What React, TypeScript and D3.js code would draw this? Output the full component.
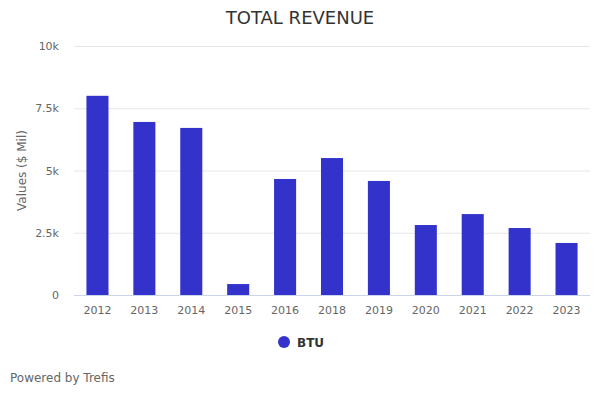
import React, { useEffect, useRef } from 'react';
import * as d3 from 'd3';

const years = ['2012', '2013', '2014', '2015', '2016', '2018', '2019', '2020', '2021', '2022', '2023'];
const revenue = [8000, 6950, 6710, 440, 4660, 5500, 4580, 2810, 3250, 2690, 2090];
const yTicks = [0, 2500, 5000, 7500, 10000];
const seriesName = 'BTU';

const App: React.FC = () => {
  const svgRef = useRef<SVGSVGElement | null>(null);

  useEffect(() => {
    const width = 600;
    const height = 400;
    const marginTop = 46;
    const marginRight = 10;
    const marginBottom = 105;
    const marginLeft = 74;
    const font = '"DejaVu Sans", Verdana, sans-serif';

    const svg = d3.select(svgRef.current)
      .attr('width', width)
      .attr('height', height)
      .attr('viewBox', [0, 0, width, height])
      .style('font-family', font);

    svg.selectAll('*').remove();

    svg.append('rect').attr('width', width).attr('height', height).attr('fill', '#fff');

    const x = d3.scaleBand<string>().domain(years)
      .range([marginLeft, width - marginRight])
      .paddingInner(0.53)
      .paddingOuter(0.265);

    const y = d3.scaleLinear().domain([0, 10000])
      .range([height - marginBottom, marginTop]);

    // gridlines
    svg.append('g')
      .selectAll('line')
      .data(yTicks)
      .enter()
      .append('line')
      .attr('x1', marginLeft)
      .attr('x2', width - marginRight)
      .attr('y1', d => y(d) + 0.5)
      .attr('y2', d => y(d) + 0.5)
      .attr('stroke', '#e6e6e6');

    // y labels
    const fmt = (d: number) => (d === 0 ? '0' : `${d / 1000}k`);
    svg.append('g')
      .selectAll('text')
      .data(yTicks)
      .enter()
      .append('text')
      .attr('x', 59)
      .attr('y', d => y(d) + 4)
      .attr('text-anchor', 'end')
      .attr('font-size', 11)
      .attr('fill', '#666')
      .text(fmt);

    // bars
    svg.append('g')
      .selectAll('rect')
      .data(revenue)
      .enter()
      .append('rect')
      .attr('x', (_, i) => x(years[i]) as number)
      .attr('y', d => y(d))
      .attr('width', x.bandwidth())
      .attr('height', d => y(0) - y(d))
      .attr('fill', '#3333cc');

    // x axis line
    svg.append('line')
      .attr('x1', marginLeft)
      .attr('x2', width - marginRight)
      .attr('y1', y(0) + 0.5)
      .attr('y2', y(0) + 0.5)
      .attr('stroke', '#ccd6eb');

    // x labels
    svg.append('g')
      .selectAll('text')
      .data(years)
      .enter()
      .append('text')
      .attr('x', d => (x(d) as number) + x.bandwidth() / 2)
      .attr('y', y(0) + 19)
      .attr('text-anchor', 'middle')
      .attr('font-size', 11)
      .attr('fill', '#666')
      .text(d => d);

    // title
    svg.append('text')
      .attr('x', width / 2)
      .attr('y', 24)
      .attr('text-anchor', 'middle')
      .attr('font-size', 18)
      .attr('fill', '#333')
      .text('TOTAL REVENUE');

    // y axis title
    svg.append('text')
      .attr('transform', `translate(26,${(marginTop + y(0)) / 2}) rotate(-90)`)
      .attr('text-anchor', 'middle')
      .attr('font-size', 12)
      .attr('fill', '#666')
      .text('Values ($ Mil)');

    // legend
    const legend = svg.append('g').attr('transform', 'translate(284,342)');
    legend.append('circle').attr('r', 6).attr('fill', '#3333cc');
    legend.append('text')
      .attr('x', 13)
      .attr('y', 5)
      .attr('font-size', 12)
      .attr('font-weight', 'bold')
      .attr('fill', '#333')
      .text(seriesName);

    // credits
    svg.append('text')
      .attr('x', 10)
      .attr('y', 382)
      .attr('font-size', 12)
      .attr('fill', '#666')
      .text('Powered by Trefis');
  }, []);

  return <svg ref={svgRef} style={{ position: 'absolute', left: 0, top: 0 }}></svg>;
};

export default App;
